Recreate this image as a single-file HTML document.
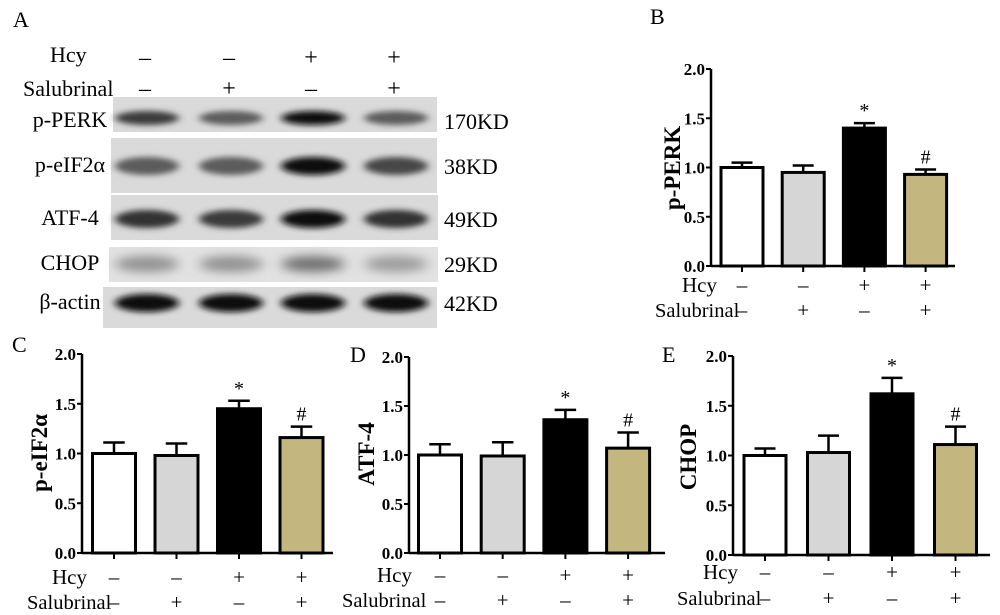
<!DOCTYPE html>
<html><head><meta charset="utf-8"><style>
html,body{margin:0;padding:0;background:#fff;}
svg{display:block;font-family:"Liberation Serif",serif;}
</style></head><body>
<svg id="fig" width="1000" height="615" viewBox="0 0 1000 615" xmlns="http://www.w3.org/2000/svg">
<defs>
<filter id="blur" x="-30%" y="-100%" width="160%" height="300%"><feGaussianBlur stdDeviation="4 3"/></filter>
<filter id="blur2" x="-30%" y="-100%" width="160%" height="300%"><feGaussianBlur stdDeviation="6 5"/></filter>
</defs>
<g id="blot">
<text x="13" y="27" font-size="22">A</text>
<text x="50" y="62" font-size="22">Hcy</text>
<text x="23" y="96" font-size="22">Salubrinal</text>
</g>
<g id="charts"></g>
</svg>
<script>
// ---- chart data ----
const groups = ["Control", "Salubrinal", "Hcy", "Hcy+Salubrinal"];
const hcySigns = ["–", "–", "+", "+"];
const salSigns = ["–", "+", "–", "+"];
const yTicks = [0.0, 0.5, 1.0, 1.5, 2.0];
const yTickLabels = ["0.0", "0.5", "1.0", "1.5", "2.0"];
const perkMeans = [1.00, 0.95, 1.40, 0.93];
const perkErrs = [0.05, 0.07, 0.05, 0.05];
const eif2Means = [1.00, 0.98, 1.45, 1.16];
const eif2Errs = [0.11, 0.12, 0.08, 0.11];
const atf4Means = [1.00, 0.99, 1.36, 1.07];
const atf4Errs = [0.11, 0.14, 0.10, 0.16];
const chopMeans = [1.00, 1.03, 1.62, 1.11];
const chopErrs = [0.07, 0.17, 0.16, 0.18];
const sigMarks = ["", "", "*", "#"];
const blotBandIntensity = [
  [0.75, 0.6, 0.95, 0.6],
  [0.6, 0.6, 0.95, 0.7],
  [0.8, 0.75, 0.95, 0.8],
  [0.35, 0.35, 0.5, 0.3],
  [0.97, 0.97, 0.97, 0.97]
];
const blotProteins = ["p-PERK", "p-eIF2α", "ATF-4", "CHOP", "β-actin"];
const blotWeights = ["170KD", "38KD", "49KD", "29KD", "42KD"];

const NS = "http://www.w3.org/2000/svg";
function mk(tag, attrs, parent, txt) {
  const e = document.createElementNS(NS, tag);
  for (const k in attrs) e.setAttribute(k, attrs[k]);
  if (txt !== undefined) e.textContent = txt;
  parent.appendChild(e);
  return e;
}
const fills = ["#ffffff", "#d6d6d6", "#000000", "#c3b67f"];

// ---- western blot ----
const blot = document.getElementById("blot");
const laneX = [145, 229, 311, 394];
for (let i = 0; i < 4; i++) {
  const t1 = mk("text", {x: laneX[i], y: 65, "font-size": 24, "text-anchor": "middle"}, blot, hcySigns[i]);
  
  
  const t2 = mk("text", {x: laneX[i], y: 96, "font-size": 24, "text-anchor": "middle"}, blot, salSigns[i]);
  
  
}
const strips = [[113, 97, 324, 35, 120], [111, 138, 326, 55, 165], [111, 195, 327, 45, 218], [109, 247, 329, 35, 263], [103, 287, 334, 41, 302]];
const bandH = [12, 16, 16, 14, 16];
for (let r = 0; r < 5; r++) {
  const s = strips[r];
  const g = mk("g", {}, blot);
  
  
  mk("rect", {x: s[0], y: s[1], width: s[2], height: s[3], fill: r === 3 ? "#e2e2e2" : "#dadada"}, g);
  for (let i = 0; i < 4; i++) {
    const v = blotBandIntensity[r][i];
    const c = Math.round(220 - v * 215);
    const b = mk("ellipse", {cx: laneX[i] + 2, cy: s[4] + (r === 0 ? -2 : 1), rx: 32, ry: bandH[r] / 2 + 1, fill: `rgb(${c},${c},${c})`, filter: r === 3 ? "url(#blur2)" : "url(#blur)"}, g);
    
    
  }
  const l = mk("text", {x: 70, y: s[4] + 7, "font-size": 22, "text-anchor": "middle"}, blot, blotProteins[r]);
  
  
  const w = mk("text", {x: 444, y: s[4] + 9, "font-size": 22}, blot, blotWeights[r]);
  
  
}

// ---- bar charts ----
const charts = document.getElementById("charts");
function panel(cfg, means, errs) {
  const g = mk("g", {}, charts);
  
  
  const yS = v => cfg.y0 - (v / 2.0) * (cfg.y0 - cfg.y2);
  const xS = i => cfg.ax + cfg.first + i * cfg.pitch;
  if (cfg.letter) {
    const L = mk("text", {x: cfg.lx, y: cfg.ly, "font-size": 22}, g, cfg.letter);
    
    
  }
  for (let i = 0; i < groups.length; i++) {
    const cx = xS(i), top = yS(means[i]), et = yS(means[i] + errs[i]);
    const eb = mk("line", {x1: cx, x2: cx, y1: top, y2: et, stroke: "#000", "stroke-width": 2.5}, g);
    
    
    const cap = mk("line", {x1: cx - cfg.bw / 4, x2: cx + cfg.bw / 4, y1: et, y2: et, stroke: "#000", "stroke-width": 2.5}, g);
    
    
    const r = mk("rect", {x: cx - cfg.bw / 2, y: top, width: cfg.bw, height: cfg.y0 - top, fill: fills[i], stroke: "#000", "stroke-width": 3}, g);
    
    
    if (sigMarks[i]) {
      const m = mk("text", {x: cx, y: et - 6, "font-size": 20, "text-anchor": "middle"}, g, sigMarks[i]);
      
      
    }
    const tk = mk("line", {x1: cx, x2: cx, y1: cfg.y0, y2: cfg.y0 + 6, stroke: "#000", "stroke-width": 2}, g);
    
    
    const h = mk("text", {x: cx, y: cfg.rh + 7, "font-size": 21, "text-anchor": "middle"}, g, hcySigns[i]);
    
    
    const s = mk("text", {x: cx, y: cfg.rs + 7, "font-size": 21, "text-anchor": "middle"}, g, salSigns[i]);
    
    
  }
  const ya = mk("line", {x1: cfg.ax, x2: cfg.ax, y1: cfg.y2, y2: cfg.y0, stroke: "#000", "stroke-width": 2.5}, g);
  
  
  const xa = mk("line", {x1: cfg.ax, x2: cfg.end, y1: cfg.y0, y2: cfg.y0, stroke: "#000", "stroke-width": 2.5}, g);
  
  
  for (let k = 0; k < yTicks.length; k++) {
    const y = yS(yTicks[k]);
    const t = mk("line", {x1: cfg.ax - 5, x2: cfg.ax, y1: y, y2: y, stroke: "#000", "stroke-width": 2}, g);
    
    
    const tl = mk("text", {x: cfg.ax - 6, y: y + 6, "font-size": 17, "font-weight": "bold", "text-anchor": "end"}, g, yTickLabels[k]);
    
    
  }
  const yt = mk("text", {x: cfg.tx, y: cfg.ty, "font-size": 23, "font-weight": "bold", "text-anchor": "middle", transform: `rotate(-90 ${cfg.tx} ${cfg.ty})`}, g, cfg.title);
  
  
  const hl = mk("text", {x: cfg.hx, y: cfg.rh + 7, "font-size": 21}, g, "Hcy");
  
  
  const sl = mk("text", {x: cfg.sx, y: cfg.rs + 7, "font-size": 20.5}, g, "Salubrinal");
  
  
}
panel({name: "p-perk", letter: "B", lx: 650, ly: 24, ax: 711, first: 31, pitch: 61.2, bw: 42, y2: 69, y0: 266, end: 955, rh: 285, rs: 310, hx: 682, sx: 655, title: "p-PERK", tx: 680, ty: 168}, perkMeans, perkErrs);
panel({name: "p-eif2a", letter: "C", lx: 12, ly: 352, ax: 82, first: 32, pitch: 62.5, bw: 43, y2: 354, y0: 553, end: 333, rh: 577, rs: 602, hx: 52, sx: 27, title: "p-eIF2α", tx: 47, ty: 453}, eif2Means, eif2Errs);
panel({name: "atf-4", letter: "D", lx: 350, ly: 362, ax: 409, first: 31, pitch: 62.7, bw: 43, y2: 357, y0: 553, end: 665, rh: 575, rs: 600, hx: 377, sx: 342, title: "ATF-4", tx: 374, ty: 454}, atf4Means, atf4Errs);
panel({name: "chop", letter: "E", lx: 662, ly: 362, ax: 733, first: 32, pitch: 63.5, bw: 42, y2: 356, y0: 555, end: 990, rh: 572, rs: 598, hx: 703, sx: 677, title: "CHOP", tx: 696, ty: 457}, chopMeans, chopErrs);
</script>
</body></html>
